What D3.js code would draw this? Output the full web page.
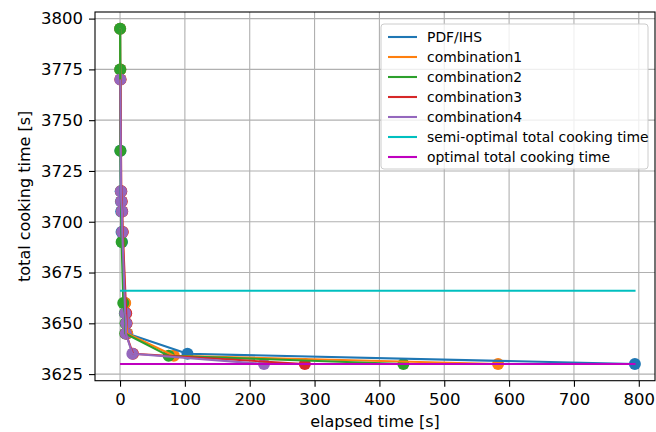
<!DOCTYPE html>
<html>
<head>
<meta charset="utf-8">
<script src="https://cdn.jsdelivr.net/npm/d3@7"></script>
<style>
  body { margin: 0; background: #fff; }
  svg { display: block; font-family: "DejaVu Sans", sans-serif; }
</style>
</head>
<body>
<div id="chart-area"></div>
<script>
// Series names and colours (matplotlib tab10 + c/m)
const seriesNames = ["PDF/IHS", "combination1", "combination2", "combination3", "combination4"];
const seriesColors = ["#1f77b4", "#ff7f0e", "#2ca02c", "#d62728", "#9467bd"];

// elapsed time [s] / total cooking time [s] per series
const pdfIhsX = [0.2, 0.4, 0.6, 1.0, 1.4, 1.8, 2.4, 3.0, 7.5, 8.5, 9.5, 11, 104, 794];
const pdfIhsY = [3795, 3775, 3735, 3715, 3710, 3705, 3695, 3690, 3660, 3655, 3650, 3645, 3635, 3630];
const comb1X = [0.2, 0.5, 0.8, 1.5, 2.2, 3.0, 3.8, 8, 9, 10, 11, 83, 583];
const comb1Y = [3795, 3775, 3770, 3715, 3710, 3705, 3695, 3660, 3655, 3650, 3645, 3634, 3630];
const comb2X = [0.1, 0.3, 0.6, 2.5, 5, 7.5, 8.5, 8, 75, 437];
const comb2Y = [3795, 3775, 3735, 3690, 3660, 3655, 3650, 3645, 3634, 3630];
const comb3X = [0.6, 2.0, 2.6, 3.4, 4.2, 9.5, 10, 9, 20, 285];
const comb3Y = [3770, 3715, 3710, 3705, 3695, 3655, 3650, 3645, 3635, 3630];
const comb4X = [0.5, 1.5, 2, 3, 3.5, 8, 9.5, 9, 19, 222];
const comb4Y = [3770, 3715, 3710, 3705, 3695, 3655, 3650, 3645, 3635, 3630];

// reference lines
const semiOptimal = 3666;
const optimal = 3630;
const refLineX = [0, 795];
const refNames = ["semi-optimal total cooking time", "optimal total cooking time"];
const refColors = ["#00bfbf", "#bf00bf"];

// ticks
const xTicks = [0, 100, 200, 300, 400, 500, 600, 700, 800];
const yTicks = [3625, 3650, 3675, 3700, 3725, 3750, 3775, 3800];

const seriesX = [pdfIhsX, comb1X, comb2X, comb3X, comb4X];
const seriesY = [pdfIhsY, comb1Y, comb2Y, comb3Y, comb4Y];
const series = seriesNames.map((name, i) => ({
  name: name,
  color: seriesColors[i],
  points: seriesX[i].map((x, j) => ({ x: x, y: seriesY[i][j] }))
}));

// layout
const W = 656, H = 432;
const plot = { left: 95, right: 655, top: 12, bottom: 380.7 };

const svg = d3.select("#chart-area").append("svg")
  .attr("width", W).attr("height", H);

const xScale = d3.scaleLinear().domain([-38.6, 825]).range([plot.left, plot.right]);
const yScale = d3.scaleLinear().domain([3621.75, 3803.25]).range([plot.bottom, plot.top]);

// grid
const grid = svg.append("g");
grid.selectAll(".gx").data(xTicks).enter().append("line")
  .attr("x1", (d) => xScale(d)).attr("x2", (d) => xScale(d))
  .attr("y1", plot.top).attr("y2", plot.bottom)
  .attr("stroke", "#b0b0b0").attr("stroke-width", 1.1);
grid.selectAll(".gy").data(yTicks).enter().append("line")
  .attr("x1", plot.left).attr("x2", plot.right)
  .attr("y1", (d) => yScale(d)).attr("y2", (d) => yScale(d))
  .attr("stroke", "#b0b0b0").attr("stroke-width", 1.1);

// scatter first (below lines, like matplotlib zorder)
series.forEach((s) => {
  svg.append("g").selectAll("circle").data(s.points).enter().append("circle")
    .attr("cx", (d) => xScale(d.x))
    .attr("cy", (d) => yScale(d.y))
    .attr("r", 6)
    .attr("fill", s.color);
});

const line = d3.line().x((d) => xScale(d.x)).y((d) => yScale(d.y));
series.forEach((s) => {
  svg.append("path").datum(s.points)
    .attr("d", line)
    .attr("fill", "none")
    .attr("stroke", s.color)
    .attr("stroke-width", 2.1)
    .attr("stroke-linejoin", "round");
});

// reference lines
[semiOptimal, optimal].forEach((v, i) => {
  svg.append("path").datum(refLineX.map((x) => ({ x: x, y: v })))
    .attr("d", line)
    .attr("fill", "none")
    .attr("stroke", refColors[i])
    .attr("stroke-width", 2.1);
});

// axes
const xAxis = svg.append("g")
  .attr("transform", `translate(0,${plot.bottom})`)
  .call(d3.axisBottom(xScale).tickValues(xTicks).tickFormat(d3.format("d")).tickSize(6).tickPadding(7));
const yAxis = svg.append("g")
  .attr("transform", `translate(${plot.left},0)`)
  .call(d3.axisLeft(yScale).tickValues(yTicks).tickFormat(d3.format("d")).tickSize(6).tickPadding(6));
[xAxis, yAxis].forEach((a) => {
  a.select(".domain").remove();
  a.selectAll("line").attr("stroke", "#000").attr("stroke-width", 1.1);
  a.selectAll("text").attr("font-size", 16.5).attr("fill", "#000")
    .attr("font-family", "DejaVu Sans");
});

// frame
svg.append("rect")
  .attr("x", plot.left).attr("y", plot.top)
  .attr("width", plot.right - plot.left).attr("height", plot.bottom - plot.top)
  .attr("fill", "none").attr("stroke", "#000").attr("stroke-width", 1.1);

// axis labels
svg.append("text")
  .attr("x", (plot.left + plot.right) / 2).attr("y", 427)
  .attr("text-anchor", "middle").attr("font-size", 16)
  .text("elapsed time [s]");
svg.append("text")
  .attr("transform", `translate(30,${(plot.top + plot.bottom) / 2}) rotate(-90)`)
  .attr("text-anchor", "middle").attr("font-size", 16)
  .text("total cooking time [s]");

// legend
const legendItems = series.map((s) => ({ name: s.name, color: s.color }))
  .concat(refNames.map((n, i) => ({ name: n, color: refColors[i] })));
const legend = svg.append("g").attr("transform", "translate(381,24)");
legend.append("rect")
  .attr("width", 267).attr("height", 145).attr("rx", 3)
  .attr("fill", "#fff").attr("fill-opacity", 0.8)
  .attr("stroke", "#cccccc").attr("stroke-width", 1);
const rows = legend.selectAll(".row").data(legendItems).enter().append("g")
  .attr("transform", (d, i) => `translate(0,${13 + i * 20})`);
rows.append("line")
  .attr("x1", 7).attr("x2", 36)
  .attr("stroke", (d) => d.color).attr("stroke-width", 2.1);
rows.append("text")
  .attr("x", 46).attr("dy", "0.36em")
  .attr("font-size", 13.9)
  .text((d) => d.name);
</script>
</body>
</html>
